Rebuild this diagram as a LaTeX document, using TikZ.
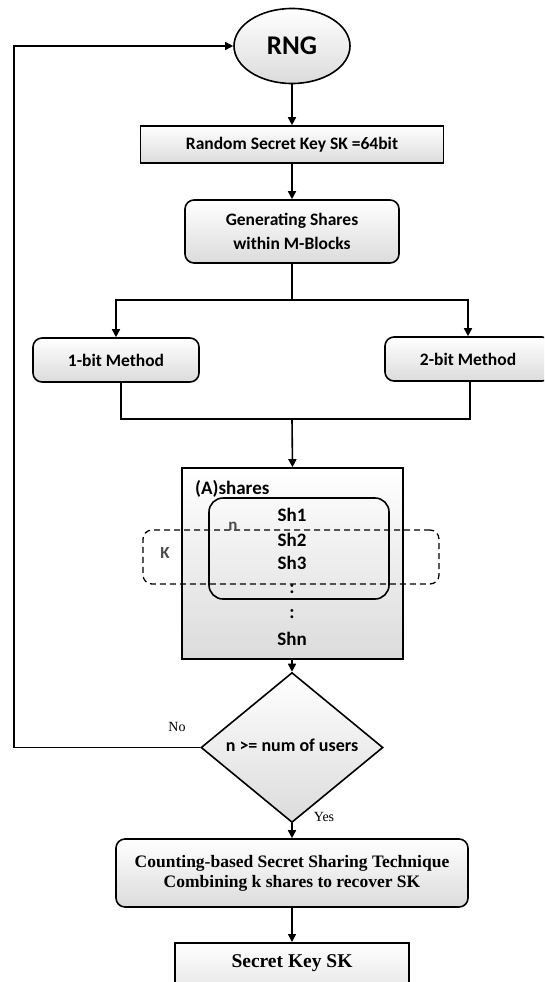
\documentclass[tikz,border=0pt]{standalone}
\usepackage{fontspec}
\setmainfont{Carlito}
\newfontfamily\tms{Liberation Serif}
\usetikzlibrary{arrows.meta,shapes.geometric}

\tikzset{
 ln/.style={line width=1.6pt},
 arr/.style={ln,-{Triangle[length=8pt,width=8pt]}},
 grad/.style={top color=white,bottom color=black!14,draw,ln},
 pbox/.style={grad,rectangle,inner sep=0pt,font=\bfseries\fontsize{17.5}{20}\selectfont},
 rbox/.style={pbox,rounded corners=9pt},
 stxt/.style={inner sep=0pt,font=\bfseries\fontsize{19}{22}\selectfont},
 gtxt/.style={inner sep=0pt,text=black!70,font=\bfseries\fontsize{17}{20}\selectfont},
 ttxt/.style={inner sep=0pt,font=\tms\fontsize{14}{16}\selectfont},
}

\begin{document}
\begin{tikzpicture}[x=1pt,y=-1pt]
\useasboundingbox (0,0) rectangle (544,982);
\clip (0,0) rectangle (544,982);

\node[grad,ellipse,minimum width=116pt,minimum height=75pt,inner sep=0pt,font=\bfseries\fontsize{27}{30}\selectfont] (rng) at (292,46) {RNG};
\node[pbox,minimum width=303pt,minimum height=37pt] (sk) at (292,144.5) {Random Secret Key SK =64bit};
\node[rbox,minimum width=214pt,minimum height=63pt,align=center,font=\bfseries\fontsize{17.5}{24}\selectfont] (gen) at (292,231.5) {Generating Shares\\within M-Blocks};
\node[rbox,minimum width=166pt,minimum height=44pt] (one) at (116,360) {1-bit Method};
\node[rbox,minimum width=166pt,minimum height=44pt] (two) at (468,359) {2-bit Method};

\node[grad,rectangle,minimum width=221pt,minimum height=191pt,inner sep=0pt] (shares) at (292.5,563.5) {};
\node[draw,ln,rounded corners=14pt,minimum width=180pt,minimum height=101pt,inner sep=0pt] (inner) at (299,548.5) {};
\node[draw,line width=1.3pt,dash pattern=on 6pt off 4pt,rounded corners=9pt,minimum width=296pt,minimum height=54pt,inner sep=0pt] (kbox) at (291,557) {};

\node[stxt,anchor=west] (lab) at (195,489) {(A)shares};
\node[stxt] (s1) at (292,515) {Sh1};
\node[stxt] (s2) at (292,540) {Sh2};
\node[stxt] (s3) at (292,563) {Sh3};
\node[stxt] (d1) at (292,589) {:};
\node[stxt] (d2) at (292,614) {:};
\node[stxt] (sn) at (292,639) {Shn};
\node[gtxt] (nl) at (233,526) {n};
\node[gtxt] (kl) at (165,553) {K};

\node[diamond,grad,minimum width=182pt,minimum height=109pt,inner sep=0pt,font=\bfseries\fontsize{18}{20}\selectfont] (dec) at (292,747.5) {\raisebox{5pt}{n >= num of users}};

\node[rbox,minimum width=352pt,minimum height=68pt,align=center,font=\tms\bfseries\fontsize{17.5}{20}\selectfont] (cnt) at (292,873) {Counting-based Secret Sharing Technique\\Combining k shares to recover SK};
\node[grad,rectangle,minimum width=234pt,inner sep=4.5pt,text height=20pt,text depth=40pt,anchor=north,font=\tms\bfseries\fontsize{19.5}{22}\selectfont] (skey) at (292,942) {Secret Key SK};

\node[ttxt] (no) at (177,727) {No};
\node[ttxt] (yes) at (324,817) {Yes};

\draw[arr] (rng.south) -- (sk.north);
\draw[arr] (sk.south) -- (gen.north);
\coordinate (br) at (292,300);
\draw[ln] (gen.south) -- (br);
\draw[arr] (br) -| (one.north);
\draw[arr] (br) -| (two.north);
\coordinate (m1) at (121,419);
\coordinate (m2) at (470,419);
\coordinate (mc) at (292,419);
\draw[ln] (one.south -| m1) -- (m1) -- (m2) -- (two.south -| m2);
\draw[arr] (mc) -- (shares.north);
\draw[arr] (shares.south -| mc) -- (dec.north);
\coordinate (lp) at (14,747.5);
\draw[arr] (dec.west) -- (lp) |- (rng.west);
\draw[arr] (dec.south) -- (cnt.north);
\draw[arr] (cnt.south) -- (skey.north);
\end{tikzpicture}
\end{document}
